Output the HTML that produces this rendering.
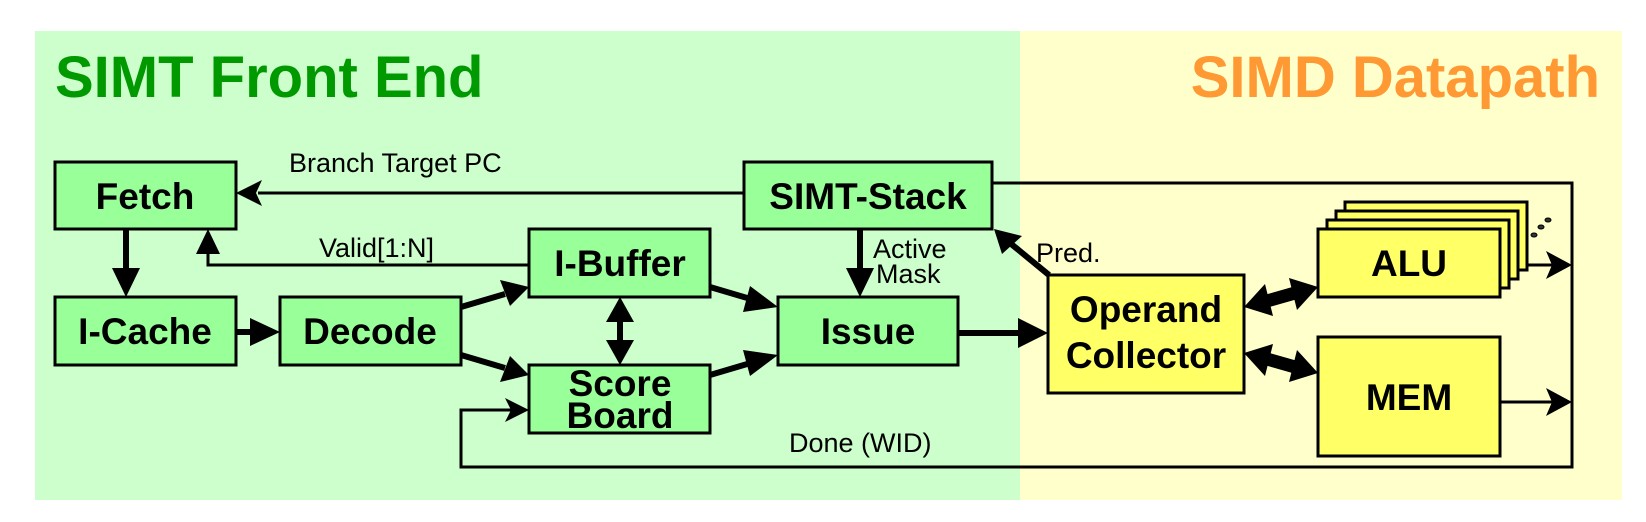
<!DOCTYPE html>
<html><head><meta charset="utf-8"><style>
html,body{margin:0;padding:0;background:#fff;width:1646px;height:522px;overflow:hidden}
svg{display:block}
text{font-family:"Liberation Sans",Arial,sans-serif}
.b{font-weight:bold;font-size:37px;text-anchor:middle}
.l{font-size:27px}
</style></head><body>
<svg width="1646" height="522" viewBox="0 0 1646 522">
<rect x="35" y="31" width="985" height="469" fill="#ccffcc"/>
<rect x="1020" y="31" width="602" height="469" fill="#ffffcc"/>
<text x="55" y="97" font-size="58" font-weight="bold" fill="#009900">SIMT Front End</text>
<text x="1600" y="97" font-size="58" font-weight="bold" fill="#ff9933" text-anchor="end">SIMD Datapath</text>

<g stroke="#000" fill="none" stroke-width="3">
<polyline points="992,183 1572,183 1572,467 461,467 461,410 512,410"/>
<line x1="744" y1="193" x2="258" y2="193"/>
<polyline points="529,265 208,265 208,248"/>
<line x1="1528" y1="265" x2="1552" y2="265"/>
<line x1="1500" y1="402" x2="1552" y2="402"/>
</g>
<g stroke="#000" fill="none" stroke-width="6">
<line x1="126" y1="229" x2="126" y2="272"/>
<line x1="236" y1="332" x2="256" y2="332"/>
<line x1="461" y1="307" x2="505" y2="294"/>
<line x1="461" y1="355" x2="505" y2="368"/>
<line x1="710" y1="287" x2="754" y2="300"/>
<line x1="710" y1="375" x2="754" y2="362"/>
<line x1="620" y1="318" x2="620" y2="344"/>
<line x1="958" y1="333" x2="1024" y2="333"/>
<line x1="860" y1="229" x2="860" y2="272"/>
<line x1="1049" y1="275" x2="1010" y2="243"/>
</g>
<g stroke="#000" fill="none" stroke-width="13">
<line x1="1267" y1="301" x2="1295" y2="293"/>
<line x1="1267" y1="359" x2="1295" y2="367"/>
</g>
<g fill="#000">
<polygon points="236,193 262,180 256,193 262,206"/>
<polygon points="208,229 196,254 220,254"/>
<polygon points="529,410 505,398 511,410 505,422"/>
<polygon points="1572,265 1546,251 1552,265 1546,279"/>
<polygon points="1572,402 1546,388 1552,402 1546,416"/>
<polygon points="126,297 112,268 140,268"/>
<polygon points="280,332 250,318 250,346"/>
<polygon points="529,287 500,280 510,306"/>
<polygon points="529,375 510,356 500,382"/>
<polygon points="778,307 750,286 743,312"/>
<polygon points="778,355 743,350 750,376"/>
<polygon points="620,297 606,322 634,322"/>
<polygon points="620,365 606,340 634,340"/>
<polygon points="1048,333 1018,318 1018,348"/>
<polygon points="860,297 846,268 874,268"/>
<polygon points="994,229 1022,236 1002,254"/>
<polygon points="1244,307 1273,316 1265,284"/>
<polygon points="1318,287 1297,310 1289,278"/>
<polygon points="1244,353 1265,376 1273,344"/>
<polygon points="1318,373 1289,382 1297,350"/>
</g>

<g stroke="#000" stroke-width="3" fill="#99ff99">
<rect x="55" y="162" width="181" height="67"/>
<rect x="55" y="297" width="181" height="68"/>
<rect x="280" y="297" width="181" height="68"/>
<rect x="529" y="229" width="181" height="68"/>
<rect x="529" y="365" width="181" height="68"/>
<rect x="744" y="162" width="248" height="67"/>
<rect x="778" y="297" width="180" height="68"/>
</g>
<g stroke="#000" stroke-width="3" fill="#ffff66">
<rect x="1345" y="202" width="182" height="68"/>
<rect x="1336" y="211" width="182" height="68"/>
<rect x="1327" y="220" width="182" height="68"/>
<rect x="1318" y="229" width="182" height="68"/>
<rect x="1318" y="337" width="182" height="119"/>
<rect x="1048" y="275" width="196" height="118"/>
</g>
<g fill="#333" stroke="#000" stroke-width="1">
<ellipse cx="1534" cy="235" rx="3" ry="2"/>
<ellipse cx="1541" cy="227" rx="3" ry="2"/>
<ellipse cx="1548" cy="220" rx="3" ry="2"/>
</g>

<text class="b" x="145" y="209">Fetch</text>
<text class="b" x="145" y="344">I-Cache</text>
<text class="b" x="370" y="344">Decode</text>
<text class="b" x="620" y="276">I-Buffer</text>
<text class="b" x="620" y="396">Score</text>
<text class="b" x="620" y="428">Board</text>
<text class="b" x="868" y="209">SIMT-Stack</text>
<text class="b" x="868" y="344">Issue</text>
<text class="b" x="1146" y="322">Operand</text>
<text class="b" x="1146" y="368">Collector</text>
<text class="b" x="1409" y="276">ALU</text>
<text class="b" x="1409" y="410">MEM</text>

<text class="l" x="289" y="172">Branch Target PC</text>
<text class="l" x="319" y="257">Valid[1:N]</text>
<text class="l" x="873" y="258">Active</text>
<text class="l" x="876" y="283">Mask</text>
<text class="l" x="1036" y="262">Pred.</text>
<text class="l" x="789" y="452">Done (WID)</text>
</svg>
</body></html>
